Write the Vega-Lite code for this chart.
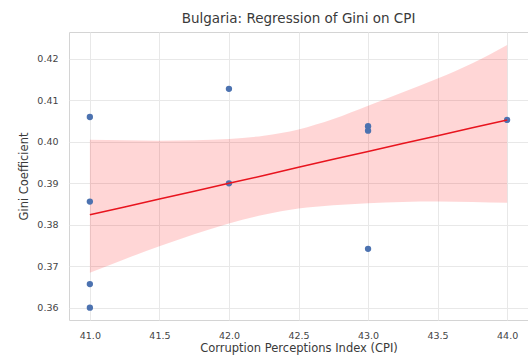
{
  "$schema": "https://vega.github.io/schema/vega-lite/v6.json",
  "width": 459,
  "height": 288,
  "autosize": {"type": "none"},
  "padding": {"left": 69, "top": 32, "right": 0, "bottom": 36},
  "background": "white",
  "title": {"text": "Bulgaria: Regression of Gini on CPI", "fontSize": 13.5, "fontWeight": "normal", "font": "DejaVu Sans", "color": "#3a3a3a", "anchor": "middle", "offset": 7},
  "config": {
    "view": {"stroke": "#d4d4d4", "strokeWidth": 1},
    "axis": {"labelFont": "DejaVu Sans", "titleFont": "DejaVu Sans", "labelFontSize": 9.5, "titleFontSize": 11.5, "labelColor": "#444444", "titleColor": "#3a3a3a", "titleFontWeight": "normal", "gridColor": "#e8e8e8", "domain": false, "ticks": false}
  },
  "datasets": {
    "points": [
      {"cpi": 41, "gini": 0.406},
      {"cpi": 41, "gini": 0.3856},
      {"cpi": 41, "gini": 0.3657},
      {"cpi": 41, "gini": 0.360},
      {"cpi": 42, "gini": 0.4128},
      {"cpi": 42, "gini": 0.390},
      {"cpi": 43, "gini": 0.4038},
      {"cpi": 43, "gini": 0.4027},
      {"cpi": 43, "gini": 0.3742},
      {"cpi": 44, "gini": 0.4053}
    ],
    "band": [
      {"cpi": 41.0, "fit": 0.3824, "lo": 0.3684, "hi": 0.4005},
      {"cpi": 41.25, "fit": 0.3843, "lo": 0.3717, "hi": 0.4004},
      {"cpi": 41.5, "fit": 0.3862, "lo": 0.3748, "hi": 0.4003},
      {"cpi": 41.75, "fit": 0.3881, "lo": 0.3777, "hi": 0.4004},
      {"cpi": 42.0, "fit": 0.3900, "lo": 0.3803, "hi": 0.4007},
      {"cpi": 42.25, "fit": 0.3919, "lo": 0.3824, "hi": 0.4015},
      {"cpi": 42.5, "fit": 0.3939, "lo": 0.3839, "hi": 0.4030},
      {"cpi": 42.75, "fit": 0.3958, "lo": 0.3847, "hi": 0.4055},
      {"cpi": 43.0, "fit": 0.3977, "lo": 0.3852, "hi": 0.4087},
      {"cpi": 43.25, "fit": 0.3996, "lo": 0.3855, "hi": 0.4120},
      {"cpi": 43.5, "fit": 0.4015, "lo": 0.3856, "hi": 0.4153},
      {"cpi": 43.75, "fit": 0.4034, "lo": 0.3855, "hi": 0.4190},
      {"cpi": 44.0, "fit": 0.4053, "lo": 0.3853, "hi": 0.4234}
    ]
  },
  "encoding": {
    "x": {"field": "cpi", "type": "quantitative", "scale": {"domain": [40.85, 44.15], "nice": false, "zero": false},
      "axis": {"title": "Corruption Perceptions Index (CPI)", "values": [41, 41.5, 42, 42.5, 43, 43.5, 44], "format": ".1f", "labelPadding": 10, "titlePadding": 3}}
  },
  "layer": [
    {
      "data": {"name": "band"},
      "mark": {"type": "area", "color": "#ff0000", "opacity": 0.16, "interpolate": "monotone"},
      "encoding": {
        "y": {"field": "lo", "type": "quantitative", "scale": {"domain": [0.35703, 0.42651], "nice": false, "zero": false},
          "axis": {"title": "Gini Coefficient", "values": [0.36, 0.37, 0.38, 0.39, 0.40, 0.41, 0.42], "format": ".2f", "labelPadding": 11, "titlePadding": 7}},
        "y2": {"field": "hi"}
      }
    },
    {
      "data": {"name": "points"},
      "mark": {"type": "circle", "size": 40, "color": "#4c72b0", "opacity": 1},
      "encoding": {"y": {"field": "gini", "type": "quantitative"}}
    },
    {
      "data": {"name": "band"},
      "mark": {"type": "line", "color": "#e8141e", "strokeWidth": 1.5},
      "encoding": {"y": {"field": "fit", "type": "quantitative"}}
    }
  ]
}
